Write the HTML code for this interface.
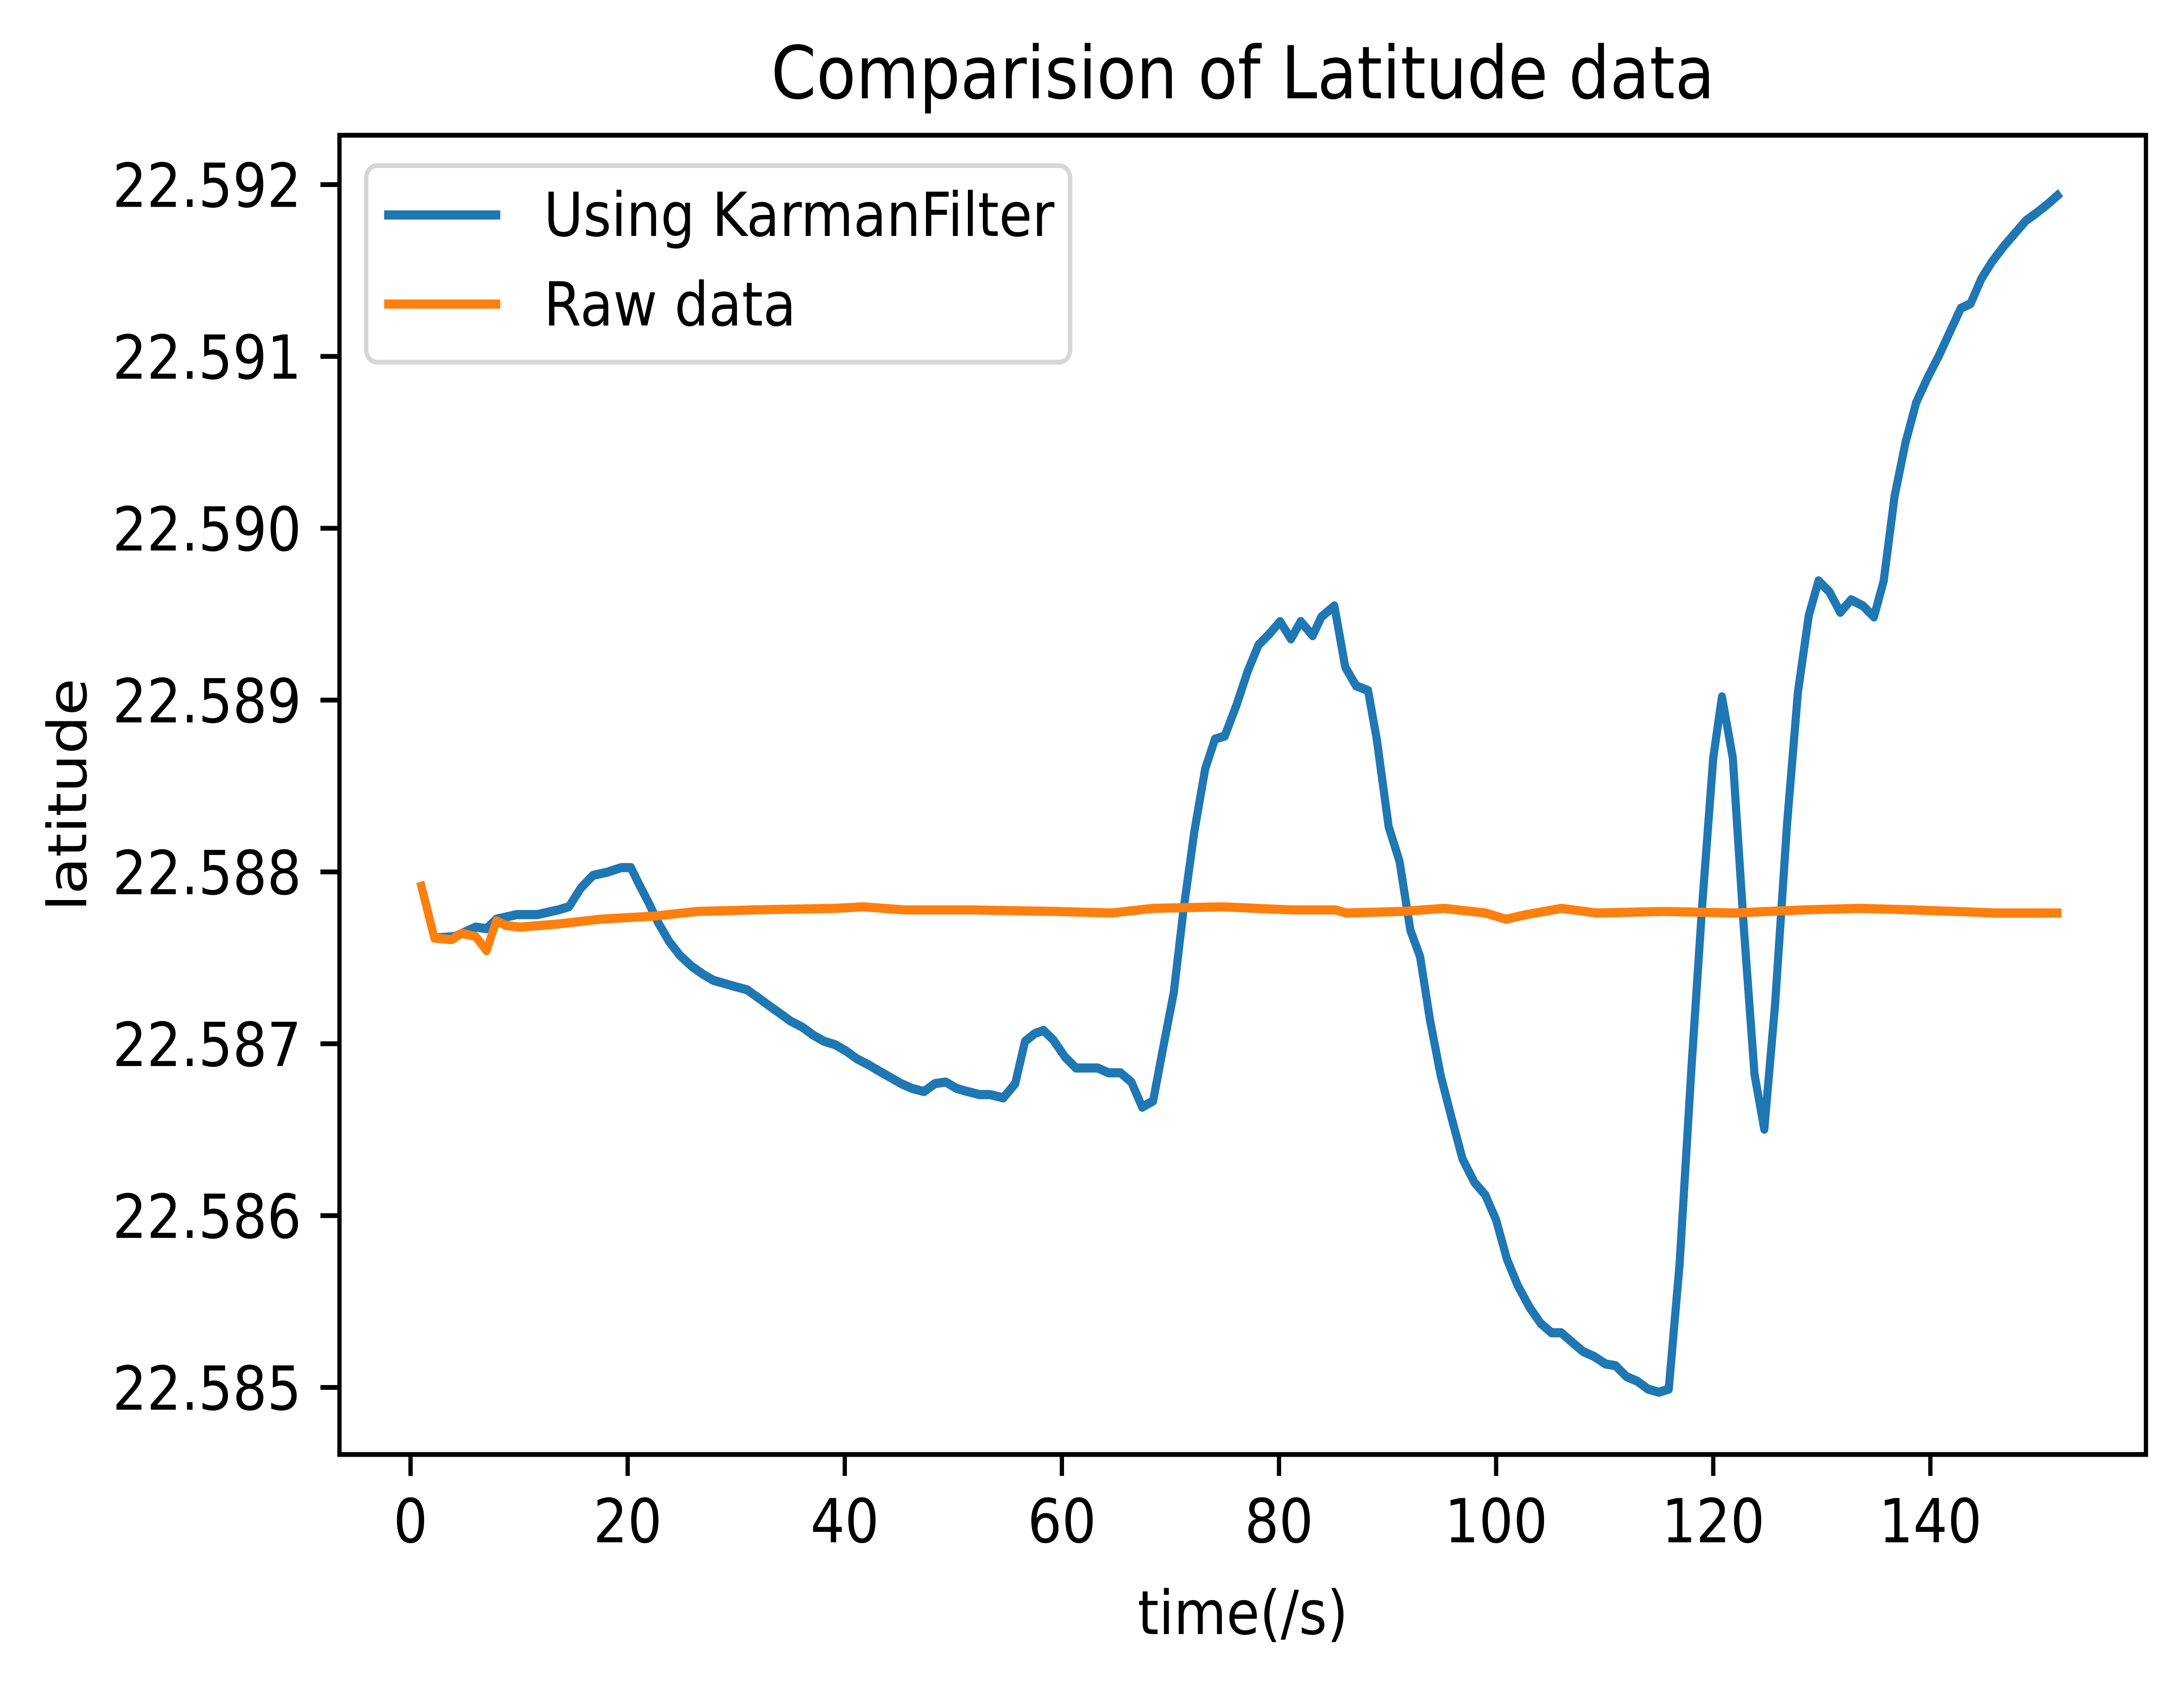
<!DOCTYPE html>
<html><head><meta charset="utf-8"><style>
html,body{margin:0;padding:0;background:#fff;width:100%;height:100%;overflow:hidden;}
svg{display:block;width:100vw;height:100vh;font-family:"DejaVu Sans","Liberation Sans",sans-serif;}
</style></head><body>
<svg id="chart" viewBox="0 0 5623 3852" preserveAspectRatio="none" xmlns="http://www.w3.org/2000/svg">
<rect x="0" y="0" width="5623" height="3852" fill="#fff"/>
<g id="series"></g>
<g id="axes"></g>
<text x="3200" y="225" font-size="167" text-anchor="middle">Comparision of Latitude data</text>
<text x="3200" y="3740" font-size="139" text-anchor="middle">time(/s)</text>
<text x="0" y="0" font-size="139" text-anchor="middle" transform="translate(222,1819) rotate(-90)">latitude</text>
<g>
<rect x="943" y="379" width="1812" height="450" rx="28" ry="28" fill="#fff" fill-opacity="0.8" stroke="#d6d6d6" stroke-width="11"/>
<line x1="989" y1="492" x2="1288" y2="492" stroke="#1f77b4" stroke-width="21"/>
<text x="1400" y="540" font-size="139">Using KarmanFilter</text>
<line x1="989" y1="696" x2="1288" y2="696" stroke="#ff7f0e" stroke-width="21"/>
<text x="1400" y="745" font-size="139">Raw data</text>
</g>
</svg>
<script>
const kalmanTime = [1,2.2,4.1,6.0,7.0,7.9,9.8,11.7,13.6,14.6,15.7,16.8,18.1,19.4,20.3,21.0,21.9,22.8,23.8,24.8,25.9,26.9,27.9,28.9,29.9,31.0,32.0,33.0,34.0,35.0,36.1,37.1,38.1,39.1,40.1,41.1,42.2,43.2,44.2,45.2,46.2,47.3,48.3,49.3,50.3,51.3,52.4,53.4,54.6,55.7,56.6,57.5,58.3,59.2,60.3,61.3,62.3,63.3,64.3,65.4,66.4,67.4,68.4,69.3,70.3,71.2,72.2,73.2,74.1,75.0,76.1,77.1,78.1,79.1,80.1,81.1,82.0,83.1,83.9,85.1,86.1,87.1,88.2,89.0,90.1,91.1,92.1,93.0,93.9,94.9,95.9,96.9,98.0,99.0,100.0,101.0,102.0,103.1,104.1,105.1,106.0,107.0,108.0,109.0,110.1,111.0,112.0,113.0,114.0,115.0,115.9,116.9,118.0,119.0,120.0,120.8,121.8,122.8,123.8,124.7,125.7,126.8,127.8,128.8,129.7,130.7,131.7,132.7,133.8,134.8,135.7,136.7,137.7,138.7,139.7,140.8,141.8,142.8,143.7,144.7,145.7,146.8,147.8,148.8,149.8,150.7,151.7];
const kalmanLat = [22.587916,22.587615,22.587624,22.587679,22.587670,22.587725,22.587752,22.587752,22.587779,22.587798,22.587907,22.587980,22.587998,22.588025,22.588025,22.587934,22.587825,22.587706,22.587597,22.587515,22.587451,22.587406,22.587369,22.587351,22.587333,22.587314,22.587269,22.587223,22.587178,22.587132,22.587096,22.587050,22.587014,22.586995,22.586959,22.586913,22.586877,22.586840,22.586804,22.586768,22.586740,22.586722,22.586768,22.586777,22.586740,22.586722,22.586704,22.586704,22.586685,22.586768,22.587014,22.587059,22.587078,22.587023,22.586922,22.586859,22.586859,22.586859,22.586831,22.586831,22.586777,22.586631,22.586667,22.586968,22.587296,22.587779,22.588235,22.588600,22.588773,22.588791,22.588974,22.589165,22.589320,22.589384,22.589457,22.589356,22.589457,22.589375,22.589484,22.589548,22.589192,22.589083,22.589056,22.588773,22.588263,22.588062,22.587661,22.587506,22.587141,22.586813,22.586567,22.586330,22.586193,22.586120,22.585974,22.585746,22.585592,22.585464,22.585373,22.585318,22.585318,22.585263,22.585209,22.585181,22.585136,22.585127,22.585063,22.585036,22.584990,22.584972,22.584990,22.585719,22.586868,22.587825,22.588664,22.589019,22.588664,22.587688,22.586822,22.586503,22.587232,22.588281,22.589046,22.589493,22.589694,22.589630,22.589511,22.589584,22.589548,22.589484,22.589694,22.590186,22.590496,22.590733,22.590870,22.591006,22.591143,22.591280,22.591307,22.591453,22.591553,22.591644,22.591717,22.591790,22.591836,22.591881,22.591936];
const rawTime = [1.0,2.2,3.8,4.7,6.0,7.0,7.9,8.8,10.1,13.6,17.5,22.5,26.4,31.5,39.1,41.7,45.5,51.8,59.5,64.6,68.4,74.8,81.1,85.2,86.2,91.3,95.2,99.0,100.9,102.8,106.0,109.2,115.5,121.9,128.3,133.4,138.5,146.1,151.7];
const rawLat = [22.587916,22.587615,22.587606,22.587643,22.587624,22.587542,22.587715,22.587688,22.587679,22.587697,22.587725,22.587743,22.587770,22.587779,22.587788,22.587797,22.587779,22.587779,22.587770,22.587761,22.587788,22.587797,22.587779,22.587779,22.587761,22.587770,22.587788,22.587761,22.587725,22.587752,22.587788,22.587761,22.587770,22.587761,22.587779,22.587788,22.587779,22.587761,22.587761];
const xTicks = [0,20,40,60,80,100,120,140];
const yTicks = [22.585,22.586,22.587,22.588,22.589,22.590,22.591,22.592];
const yTickLabels = ["22.585","22.586","22.587","22.588","22.589","22.590","22.591","22.592"];

const NS = "http://www.w3.org/2000/svg";
const L = 874, R = 5525, T = 309.5, B = 3329;
function xs(v){ return 1057 + (v - 0) * (1616 - 1057) / 20; }
function ys(v){ return 3175.5 + (v - 22.585) * (422.5 - 3175.5) / 0.007; }
function mk(tag, attrs, parent){ const e = document.createElementNS(NS, tag); for (const k in attrs) e.setAttribute(k, attrs[k]); parent.appendChild(e); return e; }

const axes = document.getElementById('axes');
const series = document.getElementById('series');

function linePath(xsArr, ysArr){ return xsArr.map((t,i)=> (i?'L':'M') + xs(t).toFixed(1) + ' ' + ys(ysArr[i]).toFixed(1)).join(' '); }

const pk = mk('path', {d: linePath(kalmanTime, kalmanLat), fill:'none', stroke:'#1f77b4', 'stroke-width':21, 'stroke-linejoin':'round', 'stroke-linecap':'square'}, series);


const pr = mk('path', {d: linePath(rawTime, rawLat), fill:'none', stroke:'#ff7f0e', 'stroke-width':21, 'stroke-linejoin':'round', 'stroke-linecap':'square'}, series);



const frame = mk('rect', {x:L, y:T, width:R-L, height:B-T, fill:'none', stroke:'#000', 'stroke-width':11, 'stroke-linejoin':'miter'}, axes);



xTicks.forEach(v => {
  const x = xs(v);
  const t = mk('line', {x1:x, y1:B, x2:x, y2:B+49, stroke:'#000', 'stroke-width':11}, axes);
  
  
  const lb = mk('text', {x:x, y:3530, 'font-size':139, 'text-anchor':'middle'}, axes);
  
  
  lb.textContent = String(v);
});
yTicks.forEach((v,i) => {
  const y = ys(v);
  const t = mk('line', {x1:L-49, y1:y, x2:L, y2:y, stroke:'#000', 'stroke-width':11}, axes);
  
  
  const lb = mk('text', {x:L-98, y:y+51, 'font-size':139, 'text-anchor':'end'}, axes);
  
  
  lb.textContent = yTickLabels[i];
});
</script>
</body></html>
